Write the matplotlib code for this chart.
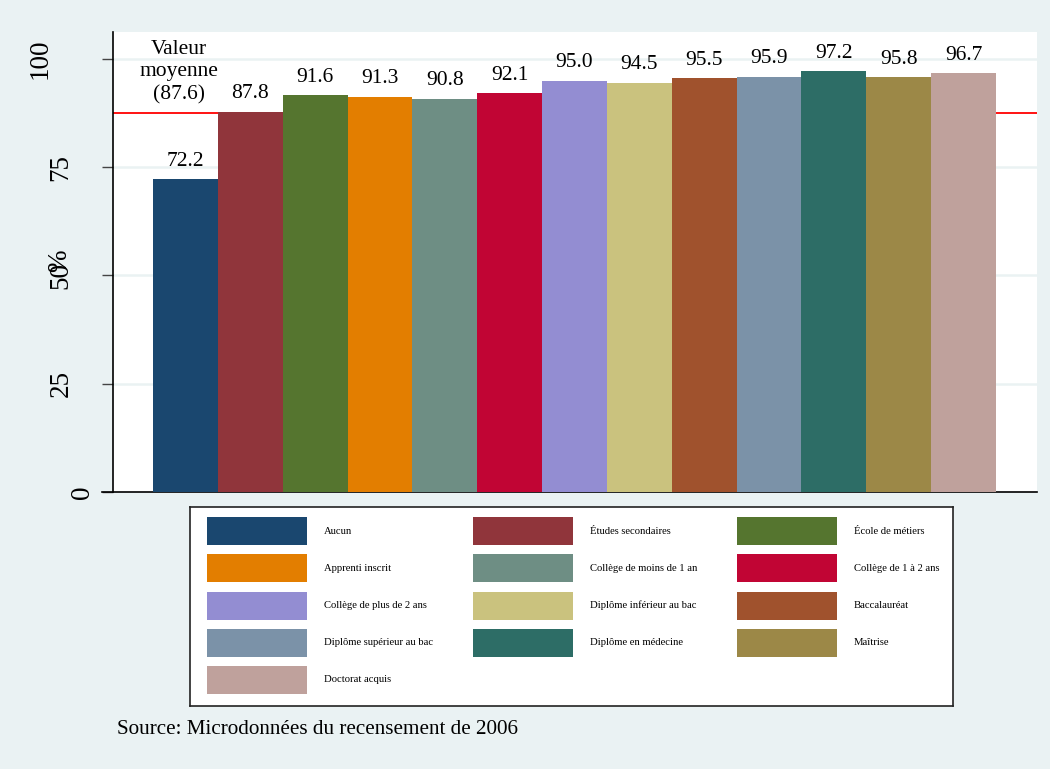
import matplotlib
matplotlib.use("Agg")
import matplotlib.pyplot as plt
import matplotlib.transforms as mtransforms
from matplotlib.patches import Rectangle
import numpy as np

# data
categories = ["Aucun", "Études secondaires", "École de métiers",
              "Apprenti inscrit", "Collège de moins de 1 an", "Collège de 1 à 2 ans",
              "Collège de plus de 2 ans", "Diplôme inférieur au bac", "Baccalauréat",
              "Diplôme supérieur au bac", "Diplôme en médecine", "Maîtrise",
              "Doctorat acquis"]
values = [72.2, 87.8, 91.6, 91.3, 90.8, 92.1, 95.0, 94.5, 95.5, 95.9, 97.2, 95.8, 96.7]
mean_value = 87.6
yticks = [0, 25, 50, 75, 100]
ytick_labels = ["0", "25", "50", "75", "100"]

# stata s2color palette
colors = ["#1a476f", "#90353b", "#55752f", "#e37e00", "#6e8e84", "#c10534",
          "#938dd2", "#cac27e", "#a0522d", "#7b92a8", "#2d6d66", "#9c8847",
          "#bfa19c"]
bg = "#eaf2f3"

plt.rcParams['font.family'] = ['Liberation Serif', 'DejaVu Serif']

fig = plt.figure(figsize=(10.5, 7.69), dpi=100, facecolor=bg)
ax = fig.add_axes([113/1050, 1 - 492/769, 924/1050, 460/769])
ax.set_facecolor("white")

x = np.arange(len(values))
ax.bar(x, values, width=1.0, color=colors, zorder=3)

# gridlines
for t in yticks[1:]:
    ax.axhline(t, color=bg, lw=1.8, zorder=1)

# mean line
ax.axhline(mean_value, color="#ff0000", lw=1.3, zorder=2)

# value labels
for xi, v in zip(x, values):
    ax.annotate("%.1f" % v, (xi, v), xytext=(0, 6), textcoords="offset points",
                ha="center", va="bottom", fontsize=15.5, zorder=4)

ax.annotate("Valeur\nmoyenne\n(%.1f)" % mean_value, (x[0] - 0.1, mean_value),
            xytext=(0, 6), textcoords="offset points", ha="center", va="bottom",
            fontsize=15.5, linespacing=1.25, zorder=4)

ax.set_xlim(-1.117, len(values) - 1 + 1.133)
ax.set_ylim(0, 106.2)
ax.set_xticks([])
ax.set_yticks(yticks)
ax.set_yticklabels([""] * len(yticks))
ax.tick_params(axis="y", length=8, width=1, color="#444444")
for s in ["top", "right"]:
    ax.spines[s].set_visible(False)
ax.spines["left"].set_linewidth(1.2)
ax.spines["bottom"].set_linewidth(1.2)
ax.spines["bottom"].set_bounds(-1.117 - 0.17, len(values) - 1 + 1.133)
ax.spines["bottom"].set_clip_on(False)

# stata-style staggered rotated tick labels
trans = mtransforms.blended_transform_factory(ax.transAxes, ax.transData)
for t, lab in zip(yticks, ytick_labels):
    off = mtransforms.ScaledTranslation(-(10 + 21 * len(lab)) / 100, 0, fig.dpi_scale_trans)
    ax.text(0, t, lab, transform=trans + off, rotation=90, ha="center", va="center",
            fontsize=19.5, clip_on=False)

# the % title sits on top of the "50" label, as in the original
ax.set_ylabel("%", fontsize=19.5, rotation=90)
ax.yaxis.set_label_coords(-41/924, (492 - 261)/460)

# legend box
lax = fig.add_axes([190/1050, 1 - 706/769, 763/1050, 199/769])
lax.set_xlim(0, 763)
lax.set_ylim(199, 0)
lax.set_xticks([])
lax.set_yticks([])
lax.set_facecolor("white")
for s in lax.spines.values():
    s.set_linewidth(1.2)
    s.set_color("#222222")
col_x = [17, 283, 547]
for i, (cat, c) in enumerate(zip(categories, colors)):
    r, k = divmod(i, 3)
    yc = 24 + r * 37.25
    lax.add_patch(Rectangle((col_x[k], yc - 14), 100, 28, facecolor=c, edgecolor="none"))
    lax.text(col_x[k] + 117, yc, cat, fontsize=7.7, va="center", ha="left")

fig.text(117/1050, 1 - 729/769, "Source: Microdonnées du recensement de 2006",
         fontsize=15.2, va="center", ha="left")

fig.savefig("out.png", dpi=100, facecolor=bg)
